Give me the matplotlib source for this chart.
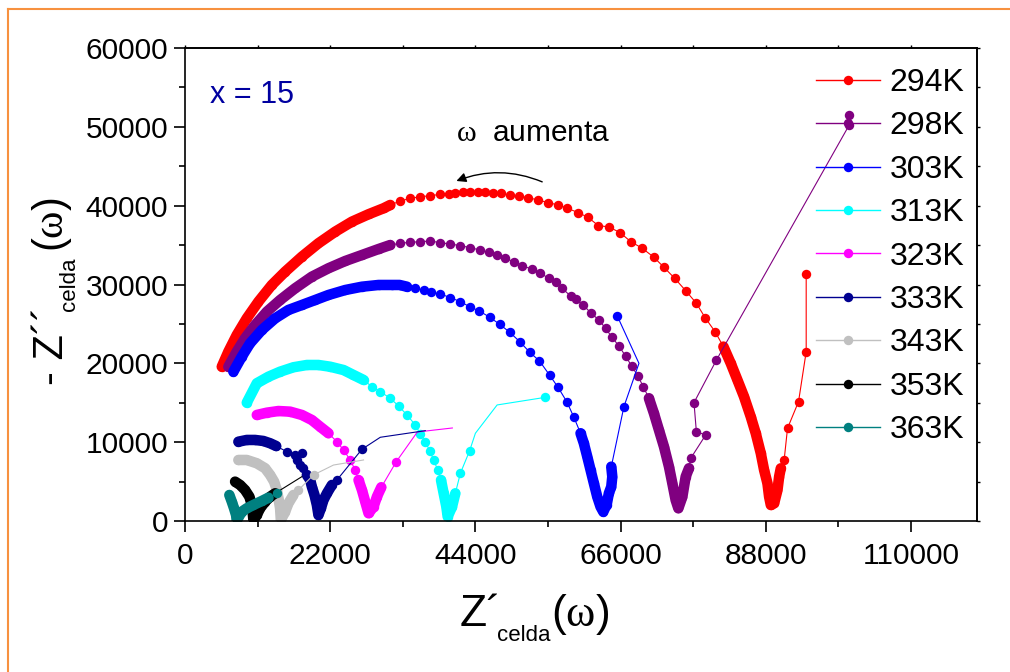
import matplotlib
matplotlib.use('Agg')
import matplotlib.pyplot as plt
from matplotlib.lines import Line2D
import numpy as np

plt.rcParams['font.family'] = ['Liberation Sans', 'DejaVu Sans']
plt.rcParams['font.style'] = 'normal'
plt.rcParams['mathtext.fontset'] = 'custom'
plt.rcParams['mathtext.rm'] = 'Liberation Sans'
plt.rcParams['mathtext.it'] = 'Liberation Serif'
plt.rcParams['mathtext.bf'] = 'Liberation Sans:bold'

# ---------------- data (Z' , -Z'') ----------------
labels = ['294K', '298K', '303K', '313K', '323K', '333K', '343K', '353K', '363K']
colors = ['#FF0000', '#800080', '#0000FF', '#00FFFF', '#FF00FF', '#000090',
          '#C0C0C0', '#000000', '#008080']

zr_294 = [5570, 6570, 7840, 9360, 11120, 13150, 15170, 17710, 20220, 22760, 25290, 27810, 30090,
          31100, 32620, 34140, 35650, 37170, 38690, 39950, 40960, 42130, 43240, 44350, 45520,
          46680, 47900, 49200, 50570, 52000, 53510, 55030, 56550, 57910, 59580, 61100, 62610,
          64230, 65900, 67520, 69290, 71050, 72570, 74190, 75860, 77480, 78800, 80310, 81580,
          82690, 83700, 84700, 85720, 86480, 87240, 87740, 88250, 88500, 88760, 89260, 89770,
          90020, 90270, 90780, 91290, 92960, 94120, 94120]
zi_294 = [19570, 21480, 23590, 25710, 27820, 29940, 31620, 33530, 35230, 36700, 37970, 38910, 39670,
          40090, 40590, 40930, 41140, 41260, 41440, 41520, 41570, 41770, 41770, 41770, 41700,
          41650, 41570, 41350, 41230, 41010, 40720, 40380, 40090, 39670, 39120, 38500, 37480,
          37300, 36590, 35450, 34590, 33450, 32180, 30790, 29220, 27620, 25800, 24020, 22120,
          20000, 17890, 15770, 13230, 11120, 8590, 6470, 4780, 3090, 2030, 2240, 3930,
          5620, 6680, 7740, 11760, 15140, 21480, 31330]

zr_298 = [6570, 7840, 9100, 10620, 12400, 14410, 16690, 19220, 21740, 24280, 26810, 29330,
          31100, 32620, 34140, 35650, 37170, 38690, 40210, 41720, 43240, 44650, 46020, 47290,
          48550, 49810, 51090, 52600, 53860, 55120, 56140, 57150, 58410, 59170, 60340, 61450,
          62710, 63720, 64630, 65740, 66750, 67670, 68620, 69440, 70290, 71050, 71810, 72570,
          73330, 73840, 74340, 74750, 75360, 75860, 76360, 76620, 78890, 77480, 77120, 80520,
          100640, 100640]
zi_298 = [19570, 21480, 23180, 24860, 26550, 28030, 29520, 30990, 32060, 32980, 33740, 34500,
          35010, 35230, 35350, 35430, 35520, 35300, 35140, 34920, 34670, 34380, 34080, 33740,
          33320, 32890, 32390, 31930, 31420, 30790, 30280, 29520, 28540, 28120, 27400, 26420,
          25500, 24440, 23380, 22200, 20930, 19660, 18390, 17040, 15570, 13660, 11540, 9430,
          6890, 4780, 2660, 1610, 3080, 5620, 6690, 7950, 10910, 11330, 15010, 20420,
          50230, 51500]

zr_303 = [7330, 8600, 9860, 11640, 13660, 15670, 17710, 19720, 21740, 24280, 26810, 29330,
          31360, 32510, 33630, 34900, 36160, 37280, 38690, 40210, 41720, 43130, 44610, 46170,
          47690, 49200, 50720, 52240, 53710, 55230, 56520, 57850, 58940, 59930, 60430, 60950,
          61450, 61950, 62460, 62960, 63370, 63880, 64220, 64590, 64740, 64590, 66500, 68780,
          65500]
zi_303 = [18940, 20840, 22540, 24230, 25710, 26770, 27400, 28030, 28670, 29300, 29720, 29940,
          29940, 29940, 29720, 29520, 29300, 29010, 28800, 28330, 27820, 27180, 26640, 25840,
          24950, 23940, 22750, 21400, 20300, 18520, 16960, 15130, 13130, 11130, 9860, 8160,
          6470, 4780, 3080, 1810, 1180, 2030, 3510, 4350, 5620, 6890, 14500, 20000,
          26000]

zr_313 = [9360, 10880, 12640, 14410, 16430, 18470, 20220, 22000, 24020, 25530, 27050, 28320,
          29590, 31100, 32360, 33630, 34900, 35650, 36410, 37070, 37680, 38290, 38790, 39190,
          39600, 39800, 40460, 40960, 41720, 43130, 44000, 47290, 54620]
zi_313 = [15010, 17470, 18300, 18940, 19500, 19790, 19790, 19570, 19150, 18520, 17890, 17040,
          16400, 15570, 14590, 13450, 12180, 11040, 10060, 8920, 7740, 6470, 5200, 3510,
          1810, 550, 1810, 3510, 6050, 8920, 11130, 14720, 15690]

zr_323 = [10880, 12400, 14160, 15930, 17710, 19220, 20480, 21740, 23010, 24020, 25030, 25790,
          26290, 26810, 27310, 27810, 28570, 29080, 29740, 32010, 35200, 40510]
zi_323 = [13450, 13740, 13950, 13870, 13450, 12810, 11960, 11130, 10060, 9010, 7740, 6470,
          5200, 3930, 2450, 980, 1810, 3080, 4280, 7520, 11290, 11800]

zr_333 = [8090, 9360, 10620, 11880, 12900, 13810, 15430, 16690, 17710, 16990, 17450, 17950,
          18460, 18970, 19220, 19620, 19980, 20220, 20590, 20980, 21500, 22260, 23020, 26810,
          29590, 36410]
zi_333 = [10060, 10280, 10280, 10150, 9860, 9510, 8790, 8370, 8590, 7740, 7100, 6690,
          5840, 5200, 4350, 3300, 2030, 760, 1610, 2660, 3510, 4570, 5200, 9100,
          10620, 11460]

zr_343 = [8090, 9360, 10880, 12140, 12900, 13500, 13910, 14160, 14410, 14520, 15170, 15670,
          16430, 17190, 19470, 22500, 27050]
zi_343 = [7740, 7740, 7320, 6690, 5840, 4990, 3930, 2880, 1610, 130, 1180, 2250,
          3300, 3930, 5840, 7100, 7740]

zr_353 = [7590, 8350, 9100, 9760, 10120, 10270, 10370, 10880, 11380, 12140, 12900, 13650, 17700]
zi_353 = [4990, 4570, 3930, 3080, 2030, 980, 100, 760, 1610, 2450, 3080, 3510, 5620]

zr_363 = [6720, 7090, 7430, 7740, 7840, 8600, 9360, 10360, 11640, 12640, 13910]
zi_363 = [3300, 2450, 1610, 760, 50, 1180, 1610, 2030, 2540, 2960, 3510]

x_ticks = [0, 22000, 44000, 66000, 88000, 110000]
y_ticks = [0, 10000, 20000, 30000, 40000, 50000, 60000]

# ---------------- style ----------------
series_x = [zr_294, zr_298, zr_303, zr_313, zr_323, zr_333, zr_343, zr_353, zr_363]
series_y = [zi_294, zi_298, zi_303, zi_313, zi_323, zi_333, zi_343, zi_353, zi_363]
# index ranges where the symbols overlap into a continuous band
dense = {'294K': [(0, 13), (48, 62)], '298K': [(0, 12), (44, 54)], '303K': [(0, 14), (33, 45)],
         '313K': [(0, 10), (22, 27)], '323K': [(0, 7), (12, 18)], '333K': [(0, 5), (12, 21)],
         '343K': [(0, 12)], '353K': [(0, 11)], '363K': [(0, 9)]}
# points whose symbol is not visible (only connecting line)
hidden = {'303K': [47], '313K': [30, 31], '323K': [20, 21], '333K': [24, 25],
          '343K': [15, 16], '353K': [12]}
MS = 6.8
BAND = 7.6

W, H = 1010, 672
fig = plt.figure(figsize=(W / 100, H / 100), dpi=100)
ax = fig.add_axes([185 / W, 1 - 521 / H, (977 - 185) / W, (521 - 48) / H])
ax.set_xlim(0, 120000)
ax.set_ylim(0, 60000)

handles = []
for lab, c, xs, ys in zip(labels, colors, series_x, series_y):
    hid = hidden.get(lab, [])
    mk = [i for i in range(len(xs)) if i not in hid]
    for a, b in dense.get(lab, []):
        ax.plot(xs[a:b + 1], ys[a:b + 1], '-', color=c, lw=BAND,
                solid_capstyle='round', solid_joinstyle='round')
    ax.plot(xs, ys, '-', color=c, lw=0.8, marker='o', ms=MS, mec=c, mfc=c, mew=0,
            markevery=mk)
    handles.append(Line2D([0], [0], color=c, lw=1.0, marker='o', ms=MS, mec=c, mfc=c, mew=0))

ax.set_xticks(x_ticks)
ax.set_xticklabels([str(v) for v in x_ticks])
ax.set_xticks(np.arange(11000, 120001, 22000), minor=True)
ax.set_yticks(y_ticks)
ax.set_yticklabels([str(v) for v in y_ticks])
ax.set_yticks(np.arange(5000, 60000, 10000), minor=True)
ax.tick_params(which='major', direction='out', length=8, width=1.2, labelsize=21.5, pad=4)
ax.tick_params(axis='x', which='major', pad=7)
ax.tick_params(which='minor', direction='out', length=4, width=1.2)
for s in ax.spines.values():
    s.set_linewidth(1.2)

# small ticks on the top and right frame
sec_r = ax.secondary_yaxis('right')
sec_r.set_yticks(np.arange(0, 60001, 5000))
sec_r.tick_params(direction='out', length=2.5, width=1.0, labelright=False)
sec_r.spines['right'].set_linewidth(1.2)
sec_t = ax.secondary_xaxis('top')
sec_t.set_xticks(np.arange(0, 120001, 11000))
sec_t.tick_params(direction='out', length=2.5, width=1.0, labeltop=False)
sec_t.spines['top'].set_linewidth(1.2)

leg = ax.legend(handles, labels, loc='upper right', bbox_to_anchor=(1.0, 0.985), frameon=False,
                fontsize=23, handlelength=2.0, handletextpad=0.3, labelspacing=0.42,
                borderaxespad=0.1, numpoints=1, borderpad=0.3)

# annotations
ax.text(3790, 54040, 'x = 15', color='#0000A0', fontsize=22, ha='left', va='center')
ax.text(41120, 49220, r'$\omega$  aumenta', color='black', fontsize=21.5, ha='left', va='center')
ax.annotate('', xy=(41120, 43130), xytext=(54120, 43020),
            arrowprops=dict(arrowstyle='-|>', color='black', lw=1.0,
                            connectionstyle='arc3,rad=0.2', mutation_scale=14,
                            shrinkA=0, shrinkB=0))

# axis labels built from pieces (figure pixel positions)
def fx(px):
    return px / W

def fy(py):
    return 1 - py / H

fig.text(fx(460), fy(626), 'Z´', fontsize=32, ha='left', va='baseline', fontstyle='normal')
fig.text(fx(497), fy(641), 'celda', fontsize=16, ha='left', va='baseline')
fig.text(fx(551), fy(626), r'($\omega$)', fontsize=32, ha='left', va='baseline')

fig.text(fx(63), fy(385), '- Z´´', fontsize=30, rotation=90, rotation_mode='anchor',
         ha='left', va='baseline', fontstyle='normal')
fig.text(fx(75), fy(311), 'celda', fontsize=16, rotation=90, rotation_mode='anchor',
         ha='left', va='baseline')
fig.text(fx(63), fy(252), r'($\omega$)', fontsize=30, rotation=90, rotation_mode='anchor',
         ha='left', va='baseline')

# orange page border
fig.add_artist(Line2D([fx(8), fx(8)], [0, fy(9)], transform=fig.transFigure,
                      color='#F7913F', lw=1.5))
fig.add_artist(Line2D([fx(8), 1], [fy(9), fy(9)], transform=fig.transFigure,
                      color='#F7913F', lw=1.5))

fig.savefig('out.png', dpi=100)
